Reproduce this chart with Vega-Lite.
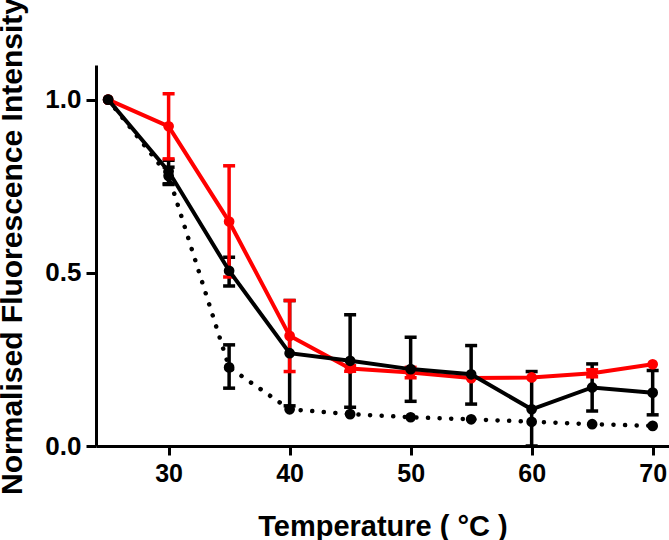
{
  "$schema": "https://vega.github.io/schema/vega-lite/v6.json",
  "width": 573,
  "height": 381,
  "autosize": {"type": "none"},
  "padding": {"left": 96, "top": 65, "right": 0, "bottom": 94},
  "background": "white",
  "config": {"view": {"stroke": null}, "font": "Liberation Sans"},
  "data": {
    "values": [
      {"temp": 25, "series": "D", "mean": 1.0, "lo": null, "hi": null},
      {"temp": 30, "series": "D", "mean": 0.78, "lo": 0.755, "hi": 0.805},
      {"temp": 35, "series": "D", "mean": 0.227, "lo": 0.167, "hi": 0.292},
      {"temp": 40, "series": "D", "mean": 0.106, "lo": null, "hi": null},
      {"temp": 45, "series": "D", "mean": 0.092, "lo": null, "hi": null},
      {"temp": 50, "series": "D", "mean": 0.083, "lo": null, "hi": null},
      {"temp": 55, "series": "D", "mean": 0.077, "lo": null, "hi": null},
      {"temp": 60, "series": "D", "mean": 0.07, "lo": null, "hi": null},
      {"temp": 65, "series": "D", "mean": 0.063, "lo": null, "hi": null},
      {"temp": 70, "series": "D", "mean": 0.058, "lo": null, "hi": null},
      {"temp": 25, "series": "B", "mean": 1.0, "lo": null, "hi": null},
      {"temp": 30, "series": "B", "mean": 0.793, "lo": 0.757, "hi": 0.825},
      {"temp": 35, "series": "B", "mean": 0.506, "lo": 0.462, "hi": 0.545},
      {"temp": 40, "series": "B", "mean": 0.268, "lo": 0.116, "hi": 0.42},
      {"temp": 45, "series": "B", "mean": 0.246, "lo": 0.112, "hi": 0.379},
      {"temp": 50, "series": "B", "mean": 0.222, "lo": 0.129, "hi": 0.314},
      {"temp": 55, "series": "B", "mean": 0.207, "lo": 0.121, "hi": 0.29},
      {"temp": 60, "series": "B", "mean": 0.106, "lo": 0.0, "hi": 0.215},
      {"temp": 65, "series": "B", "mean": 0.169, "lo": 0.101, "hi": 0.237},
      {"temp": 70, "series": "B", "mean": 0.154, "lo": 0.09, "hi": 0.218},
      {"temp": 25, "series": "R", "mean": 1.0, "lo": null, "hi": null},
      {"temp": 30, "series": "R", "mean": 0.923, "lo": 0.829, "hi": 1.017},
      {"temp": 35, "series": "R", "mean": 0.648, "lo": 0.488, "hi": 0.809},
      {"temp": 40, "series": "R", "mean": 0.318, "lo": 0.215, "hi": 0.42},
      {"temp": 45, "series": "R", "mean": 0.224, "lo": 0.216, "hi": 0.232},
      {"temp": 50, "series": "R", "mean": 0.212, "lo": 0.197, "hi": 0.227},
      {"temp": 55, "series": "R", "mean": 0.196, "lo": null, "hi": null},
      {"temp": 60, "series": "R", "mean": 0.198, "lo": null, "hi": null},
      {"temp": 65, "series": "R", "mean": 0.21, "lo": 0.2, "hi": 0.22},
      {"temp": 70, "series": "R", "mean": 0.236, "lo": null, "hi": null}
    ]
  },
  "encoding": {
    "x": {
      "field": "temp",
      "type": "quantitative",
      "scale": {"domain": [24, 71.35], "nice": false, "zero": false},
      "axis": {
        "values": [30, 40, 50, 60, 70],
        "title": "Temperature ( °C )",
        "titleFontSize": 29,
        "titleFontWeight": "bold",
        "titleColor": "black",
        "titleY": 89,
        "titleBaseline": "alphabetic",
        "labelFontSize": 25,
        "labelFontWeight": "bold",
        "labelColor": "black",
        "labelPadding": 6,
        "domainColor": "black",
        "domainWidth": 3,
        "tickColor": "black",
        "tickWidth": 3,
        "tickSize": 9,
        "grid": false
      }
    }
  },
  "layer": [
    {
      "transform": [{"filter": "datum.series === 'D'"}],
      "mark": {"type": "line", "color": "black", "strokeWidth": 4.5, "strokeDash": [0.1, 11.5], "strokeCap": "round"},
      "encoding": {
        "y": {
          "field": "mean",
          "type": "quantitative",
          "scale": {"domain": [0, 1.1], "nice": false},
          "axis": {
            "values": [0, 0.5, 1],
            "format": ".1f",
            "title": "Normalised Fluorescence Intensity",
            "titleFontSize": 30,
            "titleFontWeight": "bold",
            "titleColor": "black",
            "titleX": -75,
            "titleY": 181,
            "titleBaseline": "alphabetic",
            "labelFontSize": 26,
            "labelFontWeight": "bold",
            "labelColor": "black",
            "labelPadding": 5,
            "domainColor": "black",
            "domainWidth": 3,
            "tickColor": "black",
            "tickWidth": 3,
            "tickSize": 10,
            "grid": false
          }
        }
      }
    },
    {
      "transform": [{"filter": "datum.series === 'D'"}],
      "mark": {"type": "point", "shape": "circle", "filled": true, "color": "black", "size": 115, "opacity": 1},
      "encoding": {"y": {"field": "mean", "type": "quantitative"}}
    },
    {
      "transform": [{"filter": "datum.series !== 'R' && isValid(datum.lo)"}],
      "mark": {"type": "rule", "color": "black", "strokeWidth": 3.5},
      "encoding": {"y": {"field": "lo", "type": "quantitative"}, "y2": {"field": "hi"}}
    },
    {
      "transform": [{"filter": "datum.series !== 'R' && isValid(datum.lo)"}],
      "mark": {"type": "tick", "orient": "horizontal", "color": "black", "size": 12, "thickness": 3.5, "opacity": 1},
      "encoding": {"y": {"field": "lo", "type": "quantitative"}}
    },
    {
      "transform": [{"filter": "datum.series !== 'R' && isValid(datum.lo)"}],
      "mark": {"type": "tick", "orient": "horizontal", "color": "black", "size": 12, "thickness": 3.5, "opacity": 1},
      "encoding": {"y": {"field": "hi", "type": "quantitative"}}
    },
    {
      "transform": [{"filter": "datum.series === 'R'"}],
      "mark": {"type": "line", "color": "#ff0000", "strokeWidth": 4},
      "encoding": {"y": {"field": "mean", "type": "quantitative"}}
    },
    {
      "transform": [{"filter": "datum.series === 'R'"}],
      "mark": {"type": "point", "shape": "circle", "filled": true, "color": "#ff0000", "size": 115, "opacity": 1},
      "encoding": {"y": {"field": "mean", "type": "quantitative"}}
    },
    {
      "transform": [{"filter": "datum.series === 'R' && isValid(datum.lo)"}],
      "mark": {"type": "rule", "color": "#ff0000", "strokeWidth": 3.5},
      "encoding": {"y": {"field": "lo", "type": "quantitative"}, "y2": {"field": "hi"}}
    },
    {
      "transform": [{"filter": "datum.series === 'R' && isValid(datum.lo)"}],
      "mark": {"type": "tick", "orient": "horizontal", "color": "#ff0000", "size": 12, "thickness": 3.5, "opacity": 1},
      "encoding": {"y": {"field": "lo", "type": "quantitative"}}
    },
    {
      "transform": [{"filter": "datum.series === 'R' && isValid(datum.lo)"}],
      "mark": {"type": "tick", "orient": "horizontal", "color": "#ff0000", "size": 12, "thickness": 3.5, "opacity": 1},
      "encoding": {"y": {"field": "hi", "type": "quantitative"}}
    },
    {
      "transform": [{"filter": "datum.series === 'B'"}],
      "mark": {"type": "line", "color": "black", "strokeWidth": 4},
      "encoding": {"y": {"field": "mean", "type": "quantitative"}}
    },
    {
      "transform": [{"filter": "datum.series === 'B'"}],
      "mark": {"type": "point", "shape": "circle", "filled": true, "color": "black", "size": 115, "opacity": 1},
      "encoding": {"y": {"field": "mean", "type": "quantitative"}}
    }
  ]
}
